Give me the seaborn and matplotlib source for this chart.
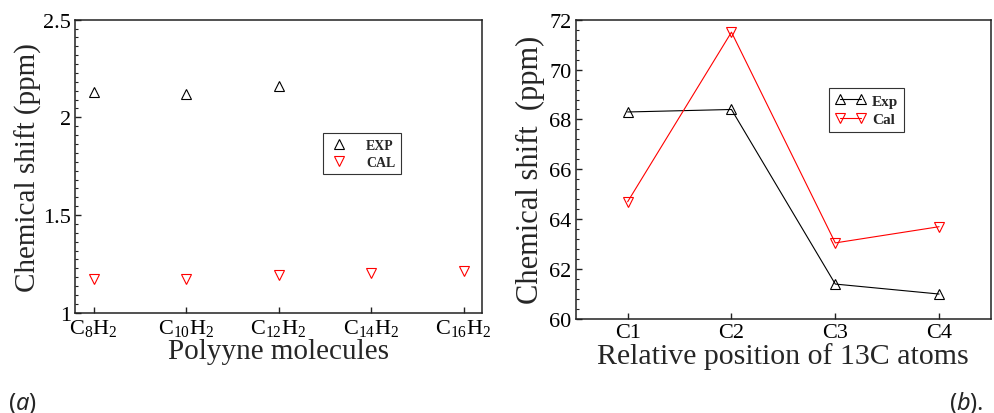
import matplotlib
matplotlib.use("Agg")
import matplotlib.pyplot as plt
from matplotlib.ticker import MultipleLocator, AutoMinorLocator
import seaborn as sns
import pandas as pd

# Panel (a): proton chemical shifts of polyyne molecules
molecules = ["C$_8$H$_2$", "C$_{10}$H$_2$", "C$_{12}$H$_2$", "C$_{14}$H$_2$", "C$_{16}$H$_2$"]
exp_shift = [2.13, 2.12, 2.16, None, None]
cal_shift = [1.175, 1.175, 1.195, 1.205, 1.215]

# Panel (b): 13C chemical shifts by carbon position
positions = ["C1", "C2", "C3", "C4"]
exp_13c = [68.3, 68.4, 61.4, 61.0]
cal_13c = [64.7, 71.5, 63.05, 63.7]

sns.set_theme(style="ticks")
plt.rcParams["font.family"] = ["Liberation Serif", "DejaVu Serif"]
plt.rcParams["mathtext.default"] = "regular"
plt.rcParams["mathtext.fontset"] = "custom"
plt.rcParams["mathtext.it"] = "Noto Sans:italic"
plt.rcParams["mathtext.rm"] = "Noto Sans"

fig = plt.figure(figsize=(9.94, 4.14), dpi=100)
ax1 = fig.add_axes([0.0755, 0.2423, 0.4095, 0.7077])
ax2 = fig.add_axes([0.5792, 0.2271, 0.4178, 0.7229])

df_a = pd.DataFrame({"mol": molecules, "EXP": exp_shift, "CAL": cal_shift})
df_b = pd.DataFrame({"pos": positions, "Exp": exp_13c, "Cal": cal_13c})

mk = dict(markersize=7, markeredgewidth=0.8, markerfacecolor="none")

sns.lineplot(data=df_a.dropna(subset=["EXP"]), x="mol", y="EXP", ax=ax1, sort=False,
             marker="^", linestyle="", color="black", markeredgecolor="black",
             label="EXP", **mk)
sns.lineplot(data=df_a, x="mol", y="CAL", ax=ax1, sort=False,
             marker="v", linestyle="", color="red", markeredgecolor="red",
             label="CAL", **mk)

sns.lineplot(data=df_b, x="pos", y="Exp", ax=ax2, sort=False,
             marker="^", color="black", linewidth=0.8, markeredgecolor="black",
             label="Exp", **mk)
sns.lineplot(data=df_b, x="pos", y="Cal", ax=ax2, sort=False,
             marker="v", color="red", linewidth=0.8, markeredgecolor="red",
             label="Cal", **mk)


def short_num(v, pos=None):
    return f"{v:g}"


ax1.set_xlim(-0.2, 4.2)
ax1.set_ylim(1, 2.5)
ax1.set_xticks(range(len(molecules)))
ax1.set_xticklabels(molecules)
ax1.yaxis.set_major_locator(MultipleLocator(0.5))
ax1.yaxis.set_minor_locator(AutoMinorLocator(11))
ax1.yaxis.set_major_formatter(short_num)
ax1.set_xlabel("Polyyne molecules", fontsize=21, labelpad=0)
ax1.set_ylabel("Chemical shift (ppm)", fontsize=21, labelpad=1)

ax2.set_xlim(-0.5, 3.5)
ax2.set_ylim(60, 72)
ax2.set_xticks(range(len(positions)))
ax2.set_xticklabels(positions)
ax2.yaxis.set_major_locator(MultipleLocator(2))
ax2.yaxis.set_minor_locator(AutoMinorLocator(5))
ax2.yaxis.set_major_formatter(short_num)
ax2.set_xlabel("Relative position of 13C atoms", fontsize=21.5, labelpad=0)
ax2.set_ylabel("Chemical shift  (ppm)", fontsize=22, labelpad=3)

for ax in (ax1, ax2):
    for s in ax.spines.values():
        s.set_linewidth(1.1)
        s.set_color("#222222")
        s.set_visible(True)
    ax.tick_params(axis="x", which="major", direction="in", length=4, width=1,
                   labelsize=16, pad=3, color="#222222", labelcolor="black")
    ax.tick_params(axis="y", which="major", direction="in", length=4, width=1,
                   labelsize=16, pad=3, color="#222222", labelcolor="black")
    ax.tick_params(axis="y", which="minor", direction="in", length=2, width=0.8,
                   color="#222222")
    ax.tick_params(axis="x", which="minor", bottom=False)

leg1 = ax1.legend(loc="upper left", bbox_to_anchor=(0.609, 0.613), borderaxespad=0,
                  numpoints=1, fancybox=False, framealpha=1, edgecolor="#333333",
                  prop={"size": 10, "weight": "bold"}, handlelength=1.5,
                  handletextpad=1.2, borderpad=0.4, labelspacing=0.3)
leg1.get_frame().set_linewidth(0.8)
leg2 = ax2.legend(loc="upper left", bbox_to_anchor=(0.61, 0.772), borderaxespad=0,
                  numpoints=2, fancybox=False, framealpha=1, edgecolor="#333333",
                  prop={"size": 11, "weight": "bold"}, handlelength=2.0,
                  handletextpad=0.4, borderpad=0.4, labelspacing=0.3)
leg2.get_frame().set_linewidth(0.8)

fig.text(0.008, 0.01, r"($\mathit{a}$)", fontsize=17, family="Noto Sans")
fig.text(0.955, 0.01, r"($\mathit{b}$).", fontsize=17, family="Noto Sans")

fig.savefig("out.png", dpi=100)
